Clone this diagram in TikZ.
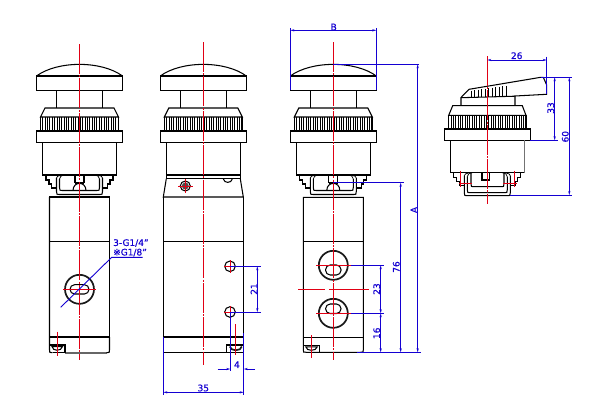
\documentclass[tikz,border=0pt]{standalone}
\usepackage{fontspec}
\setmainfont[FakeBold=0.5]{DejaVu Sans}
\usetikzlibrary{arrows.meta}
\definecolor{dimblue}{RGB}{20,0,210}
\definecolor{cred}{RGB}{225,0,20}
\tikzset{
  part/.style={draw=black,line width=1.05pt,line join=miter},
  thin part/.style={draw=black,line width=0.75pt},
  fat part/.style={draw=black!90,line width=1.7pt},
  knurl/.style={draw=black,line width=0.85pt},
  centerl/.style={draw=cred,line width=1pt,dash pattern=on 30pt off 1.2pt on 2pt off 1.2pt},
  redl/.style={draw=cred,line width=0.85pt},
  dimline/.style={draw=dimblue,line width=0.9pt},
  dimarrow/.style={draw=dimblue,line width=0.8pt,{Stealth[length=4pt,width=2.2pt]}-{Stealth[length=4pt,width=2.2pt]}},
  onearrow/.style={draw=dimblue,line width=0.8pt,-{Stealth[length=4pt,width=2.2pt]}},
  dimtext/.style={text=dimblue,font=\fontsize{9}{10}\selectfont,inner sep=0pt},
}
\newcommand{\knurlband}[3]{% half width, y top, y bottom
  \pgfmathsetmacro{\kstart}{-#1}
  \pgfmathsetmacro{\knext}{-#1+2.35}
  \pgfmathsetmacro{\kend}{#1}
  \foreach \kx in {\kstart,\knext,...,\kend}{\draw[knurl] (\kx,#2) -- (\kx,#3);}
}
\newcommand{\headparts}{%
  \draw[part] (-43,76) .. controls (-22,60.5) and (22,60.5) .. (43,76);
  \draw[part] (-43,76) rectangle (43,90.7);
  \draw[part] (-23,90.7) -- (-23,108) (23,90.7) -- (23,108);
  \draw[part] (-39,117) -- (-34.5,108) -- (34.5,108) -- (39,117) -- cycle;
  \knurlband{39}{117}{131}
  \draw[part] (-39,117) -- (-39,131) (39,117) -- (39,131);
  \draw[part] (-43,131) rectangle (43,142.7);
}
\newcommand{\clipparts}[2]{% outer bottom, inner bottom (relative)
  \foreach \sgn in {-1,1}{
    \begin{scope}[xscale=\sgn]
      \draw[part] (33.5,0) -- (33.5,5) -- (30.5,5) -- (30.5,9) -- (28,9) -- (28,13) -- (23,13);
      \draw[thin part] (15,0) .. controls (19,1) .. (20,4);
      \draw[part] (23,3) -- (23,#1-3) .. controls (23,#1) .. (19,#1) -- (0,#1);
      \draw[part] (20,4) -- (20,#2-3) .. controls (20,#2) .. (16,#2) -- (0,#2);
      \draw[thin part] (23,3) .. controls (22,1) .. (19,0.4);
    \end{scope}
  }
}
\begin{document}
\begin{tikzpicture}[x=1pt,y=-1pt]
\useasboundingbox (0,0) rectangle (600,408);
\fill[white] (0,0) rectangle (600,408);

%% ---------- View 1 ----------
\begin{scope}[shift={(79.5,0)}]
  \headparts
  \draw[part] (-36.8,142.7) -- (-36.8,175) -- (36.8,175) -- (36.8,142.7);
  \begin{scope}[yshift=-175pt]
    \clipparts{19.5}{15.5}
  \end{scope}
  \draw[part] (-4.5,175) -- (-4.5,183) (4.5,175) -- (4.5,183) (-4.5,183) -- (4.5,183);
  \draw[part] (-6.5,190.5) .. controls (-6.5,181) and (6.5,181) .. (6.5,190.5);
  \draw[part] (-30,197) rectangle (30,337);
  \draw[part] (-30,197) -- (-30,350) .. controls (-30,352.7) .. (-27,352.7);
  \draw[part] (30,241.7) -- (-30,241.7);
  \draw[part] (-14.5,352.7) -- (-27,352.7);
  \draw[draw=black!60,line width=1.3pt] (-14.5,352.9) -- (27,352.9);
  \draw[part] (30,337) -- (30,350) .. controls (30,352.7) .. (27,352.7);
  \draw[fat part] (0,289.3) circle[radius=14.5];
  \draw[part,rounded corners=4.6pt] (-9.5,284.7) rectangle (9.5,294);
  \draw[part] (-29.5,345) -- (-14.5,345) -- (-14.5,352.7);
  \draw[part] (-27.5,346.5) .. controls (-27,351.5) and (-18,351.5) .. (-17,346.5) -- cycle;
\end{scope}
\draw[centerl] (79.5,44) -- (79.5,360);
\draw[redl] (63,289.3) -- (96,289.3);
\draw[redl] (57.3,331.7) -- (57.3,355.7);
\draw[dimline] (60.7,307.3) -- (111.7,257.3) -- (142.7,257.3);
\node[dimtext,anchor=west] (t1) at (113,243) {3-G1/4"};
\node[dimtext,anchor=west] (t2) at (113,252.5) {※G1/8"};

%% ---------- View 2 ----------
\begin{scope}[shift={(203.3,0)}]
  \headparts
  \draw[part] (-37,142.7) -- (-37,175) -- (37,175) -- (37,142.7);
  \draw[part] (-37,175) -- (-37,178.7) -- (37,178.7) -- (37,175);
  \draw[part] (-37,178.7) -- (-40,197) -- (40,197) -- (37,178.7);
  \draw[part] (-40,197) -- (-40,352.7) -- (40.3,352.7) -- (40.3,197);
  \draw[part] (-40,241.3) -- (40.3,241.3);
  \draw[part] (-40,337) -- (40.3,337);
  \draw[part] (20,179) .. controls (21,183.5) and (28,183.5) .. (29,179);
  \draw[part] (-18,186) circle[radius=5];
  \fill[black!70] (-18,186) circle[radius=3.5];
  \draw[part] (26.7,266.3) circle[radius=5.3];
  \draw[part] (26.7,312) circle[radius=5.3];
  \draw[part] (23,352.7) -- (23,345) -- (40,345);
  \draw[fat part] (26.5,346.5) .. controls (27,351.5) and (38,351.5) .. (38.5,346.5);
\end{scope}
\draw[centerl] (203.3,42) -- (203.3,365);
\draw[redl] (178,186) -- (193,186) (185.3,179) -- (185.3,193);
\draw[redl] (224,266.3) -- (236,266.3) (230,260) -- (230,272.5);
\draw[redl] (224,312) -- (236,312) (230,306) -- (230,318);
\draw[redl] (235.3,324) -- (235.3,355);
% dimensions of view 2
\draw[dimline] (230,266.3) -- (260.7,266.3);
\draw[dimline] (230,312) -- (260.7,312);
\draw[dimarrow] (257.3,266.3) -- (257.3,312);
\node[dimtext,rotate=90] (d21) at (254,289) {21};
\draw[dimline] (230.3,312) -- (230.3,371);
\draw[dimline] (243.7,333) -- (243.7,395);
\draw[dimline] (163.3,337) -- (163.3,395);
\draw[onearrow] (217.7,369) -- (230.3,369);
\draw[onearrow] (255,369) -- (243.7,369);
\node[dimtext] (d4) at (236.9,364.7) {4};
\draw[dimarrow] (163.3,392.3) -- (243.7,392.3);
\node[dimtext] (d35) at (203.3,388) {35};

%% ---------- View 3 ----------
\begin{scope}[shift={(333.3,0)}]
  \headparts
  \draw[part] (-36.8,142.7) -- (-36.8,175) -- (36.8,175) -- (36.8,142.7);
  \begin{scope}[yshift=-175pt]
    \clipparts{19.5}{15.5}
  \end{scope}
  \draw[part] (-4.5,175) -- (-4.5,183) (4.5,175) -- (4.5,183) (-4.5,183) -- (4.5,183);
  \draw[part] (-6.5,190.5) .. controls (-6.5,181) and (6.5,181) .. (6.5,190.5);
  \draw[part] (-30,197.3) -- (30,197.3) -- (30,350) .. controls (30,352.3) .. (27,352.3) -- (-27,352.3) .. controls (-30,352.3) .. (-30,350) -- cycle;
  \draw[part] (-30,241.7) -- (30,241.7);
  \draw[part] (-30,337.3) -- (30,337.3);
  \draw[fat part] (0,265.3) circle[radius=14.5];
  \draw[fat part] (0,313.3) circle[radius=14.5];
  \draw[part,rounded corners=4.6pt] (-7.7,265) rectangle (7.7,275);
  \draw[part,rounded corners=4.6pt] (-7.7,304) rectangle (7.7,313.5);
  \draw[part] (-29.7,345.3) -- (-13.6,345.3) -- (-13.6,352.3);
  \draw[part] (-27.5,346.8) .. controls (-27,351.5) and (-17,351.5) .. (-16,346.8) -- cycle;
\end{scope}
\draw[centerl] (333.3,42) -- (333.3,360);
\draw[redl] (298,289.3) -- (325,289.3) (329,289.3) -- (369.3,289.3);
\draw[redl] (316,265.3) -- (351,265.3);
\draw[redl] (316,313.3) -- (351,313.3);
\draw[redl] (311.3,335) -- (311.3,358);
% dimensions of view 3
\draw[dimline] (290.3,28) -- (290.3,90);
\draw[dimline] (376.3,28) -- (376.3,90);
\draw[dimarrow] (290.3,30.3) -- (376.3,30.3);
\node[dimtext] (dB) at (333.7,27) {B};
\draw[dimline] (333.3,64.3) -- (419.3,64.3);
\draw[dimline] (333.3,182.7) -- (404,182.7);
\draw[dimline] (356.7,352.3) -- (420.7,352.3);
\draw[dimline] (351,265.3) -- (384,265.3);
\draw[dimline] (351,313.3) -- (384,313.3);
\draw[dimarrow] (417.7,64.3) -- (417.7,352.3);
\draw[dimarrow] (400.7,182.7) -- (400.7,352.3);
\draw[dimarrow] (380.7,265.3) -- (380.7,313.3);
\draw[dimarrow] (380.7,313.3) -- (380.7,352.3);
\node[dimtext,rotate=90] (dA) at (414,210) {A};
\node[dimtext,rotate=90] (d76) at (396.3,267) {76};
\node[dimtext,rotate=90] (d23) at (376.7,289) {23};
\node[dimtext,rotate=90] (d16) at (376.7,333.3) {16};

%% ---------- View 4 ----------
\begin{scope}[shift={(487.3,0)}]
  \draw[part] (-26.3,105.7) -- (-26.3,97.5) -- (-18.3,89.3) -- (53.4,77.3) -- (56,77.3) -- (59.4,85) -- (59.4,94.3) -- (27.7,96) -- (27.7,105.7);
  \draw[part] (-26.3,97.7) -- (27.7,96.2);
  \foreach \hx/\hy in {-16/90.5,-12.5/90,-9/89.5,-5.5/89,-2/88.5,1.5/88,5/87.5,8.5/87,12/86.5,15.5/86,19/85.5}{
    \draw[thin part] (\hx,\hy) -- (\hx,97);
  }
  \draw[part] (-38.6,115.3) -- (-34.6,105.7) -- (35,105.7) -- (38.7,115.3) -- cycle;
  \knurlband{38.6}{115.3}{129}
  \draw[part] (-38.6,115.3) -- (-38.6,129) (38.7,115.3) -- (38.7,129);
  \draw[part] (-43,129) rectangle (43,140.3);
  \draw[part] (-36.6,140.3) -- (-36.6,172.7) -- (37,172.7);
  \draw[draw=black!55,line width=1.5pt] (37,140.3) -- (37,172.7);
  \begin{scope}[yshift=-172.7pt]
    \clipparts{23}{20}
    \draw[part] (-16.3,0) -- (-16.3,11) .. controls (-16.3,14) .. (-13,14) -- (13,14) .. controls (16.7,14) .. (16.7,11) -- (16.7,0);
  \end{scope}
  \draw[part] (-5.3,172.7) -- (-5.3,180) -- (2,180) -- (2,172.7);
\end{scope}
\draw[centerl] (487.3,56) -- (487.3,204);
\draw[redl] (460,170.7) -- (460,187) (514.3,170.7) -- (514.3,187);
\draw[redl] (459,183.3) -- (471.7,183.3) (503,183.3) -- (516.7,183.3);
% dimensions of view 4
\draw[dimline] (546.7,56.7) -- (546.7,94);
\draw[dimarrow] (487.3,60) -- (546.7,60);
\node[dimtext] (d26) at (516.7,55.7) {26};
\draw[dimline] (540.7,77.3) -- (572.3,77.3);
\draw[dimline] (530.3,140.3) -- (558.3,140.3);
\draw[dimline] (510,195) -- (572.3,195);
\draw[dimarrow] (554.7,77.3) -- (554.7,140.3);
\draw[dimarrow] (569.3,77.3) -- (569.3,195);
\node[dimtext,rotate=90] (d33) at (550.7,108) {33};
\node[dimtext,rotate=90] (d60) at (565.3,136.7) {60};
\end{tikzpicture}
\end{document}
